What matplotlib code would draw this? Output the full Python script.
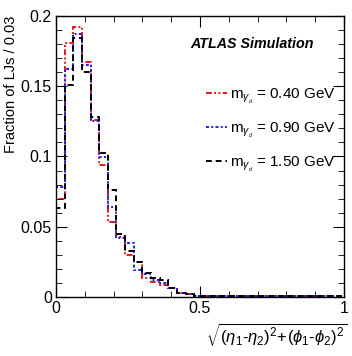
import numpy as np
import matplotlib
matplotlib.use("Agg")
import matplotlib.pyplot as plt
from matplotlib.ticker import MultipleLocator, FixedLocator

plt.rcParams['font.family'] = ['Liberation Sans', 'DejaVu Sans']
plt.rcParams['mathtext.fontset'] = 'custom'
plt.rcParams['mathtext.rm'] = 'Liberation Sans'
plt.rcParams['mathtext.it'] = 'Liberation Sans:italic'
plt.rcParams['mathtext.bf'] = 'Liberation Sans:bold'

bin_width = 0.03
n_bins = 33
red_vals = [0.070, 0.181, 0.192, 0.167, 0.126, 0.094, 0.053, 0.043, 0.030, 0.025,
            0.0135, 0.0107, 0.0085, 0.006, 0.003, 0.002, 0.0005]
blue_vals = [0.078, 0.162, 0.187, 0.165, 0.125, 0.0997, 0.064, 0.042, 0.0385, 0.019,
             0.016, 0.012, 0.010, 0.006, 0.003, 0.002, 0.0005]
black_vals = [0.063, 0.151, 0.184, 0.160, 0.128, 0.1026, 0.076, 0.045, 0.033, 0.025,
              0.017, 0.0135, 0.012, 0.006, 0.003, 0.002, 0.0005]
labels = [r'm$_{\gamma_{_d}}$ = 0.40 GeV', r'm$_{\gamma_{_d}}$ = 0.90 GeV',
          r'm$_{\gamma_{_d}}$ = 1.50 GeV']
xticks = [0, 0.5, 1]
xtick_labels = ['0', '0.5', '1']
yticks = [0, 0.05, 0.1, 0.15, 0.2]
ytick_labels = ['0', '0.05', '0.1', '0.15', '0.2']

def pad(v):
    return np.array(v + [0.0003] * (n_bins - len(v)))

edges = np.arange(n_bins + 1) * bin_width

fig = plt.figure(figsize=(3.52, 3.56), dpi=100)
ax = fig.add_axes([0.159, 0.166, 0.818, 0.789])

styles = [
    dict(color='#e8141c', linestyle=(0, (3, 1.2, 1, 1.2, 1, 1.2))),
    dict(color='#2020e0', linestyle=(0, (1.5, 1.2, 1, 1.2))),
    dict(color='black', linestyle=(0, (3, 2))),
]
handles = []
for vals, st, lab in zip([red_vals, blue_vals, black_vals], styles, labels):
    ax.stairs(pad(vals), edges, linewidth=1.4, label=lab, **st)
    handles.append(plt.Line2D([], [], linewidth=1.4, **st))

ax.set_xlim(0, 1)
ax.set_ylim(0, 0.2)
ax.xaxis.set_major_locator(FixedLocator(xticks))
ax.xaxis.set_minor_locator(MultipleLocator(0.1))
ax.yaxis.set_major_locator(FixedLocator(yticks))
ax.yaxis.set_minor_locator(MultipleLocator(0.01))
ax.set_xticklabels(xtick_labels)
ax.set_yticklabels(ytick_labels)
ax.tick_params(which='both', direction='in', top=True, right=True, labelsize=11.5)
ax.tick_params(which='major', length=8, pad=3)
ax.tick_params(which='minor', length=4)
for s in ax.spines.values():
    s.set_linewidth(1.0)

ax.set_ylabel('Fraction of LJs / 0.03', fontsize=10.5, loc='top', labelpad=2)
ax.text(1.01, -0.085, r'$\sqrt{(\eta_1\text{-}\eta_2)^2\!+\!(\phi_1\text{-}\phi_2)^2}$',
        transform=ax.transAxes, ha='right', va='top', fontsize=12)

ax.text(0.465, 0.885, 'ATLAS Simulation', transform=ax.transAxes, fontsize=10.3,
        fontweight='bold', fontstyle='italic')

ax.legend(handles, labels, loc='upper left', bbox_to_anchor=(0.50, 0.77),
          frameon=False, fontsize=11, handlelength=1.4, handletextpad=0.2,
          labelspacing=0.95, borderaxespad=0)

fig.savefig('out.png', dpi=100)
